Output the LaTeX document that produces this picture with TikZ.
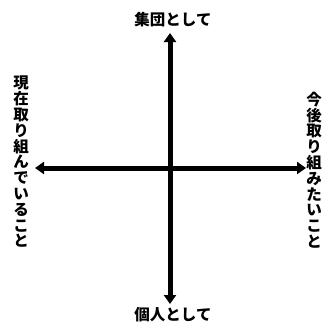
\documentclass[tikz,border=0pt]{standalone}
\usepackage{fontspec}
\newfontfamily\jp{Noto Sans CJK JP}
\usetikzlibrary{arrows.meta}
\tikzset{
  axis/.style={line width=5pt, -{Triangle[length=9pt,width=12pt]}},
  lbl/.style={font=\jp\bfseries\fontsize{15.5}{15.8}\selectfont, inner sep=0pt, align=center},
}
\begin{document}
\begin{tikzpicture}[x=1pt,y=1pt]
\useasboundingbox (0,0) rectangle (334,-325);
\coordinate (c) at (170,-168);
\coordinate (top) at (170,-33);
\coordinate (bot) at (170,-304);
\coordinate (lft) at (35,-168);
\coordinate (rgt) at (306,-168);
\draw[axis] (c) -- (top);
\draw[axis] (c) -- (bot);
\draw[axis] (c) -- (lft);
\draw[axis] (c) -- (rgt);
\node[lbl] (tl) at (173,-20) {集団として};
\node[lbl] (bl) at (173,-315) {個人として};
\node[lbl] (ll) at (21,-162) {現\\在\\取\\り\\組\\ん\\で\\い\\る\\こ\\と};
\node[lbl] (rl) at (314,-170) {今\\後\\取\\り\\組\\み\\た\\い\\こ\\と};
\end{tikzpicture}
\end{document}
